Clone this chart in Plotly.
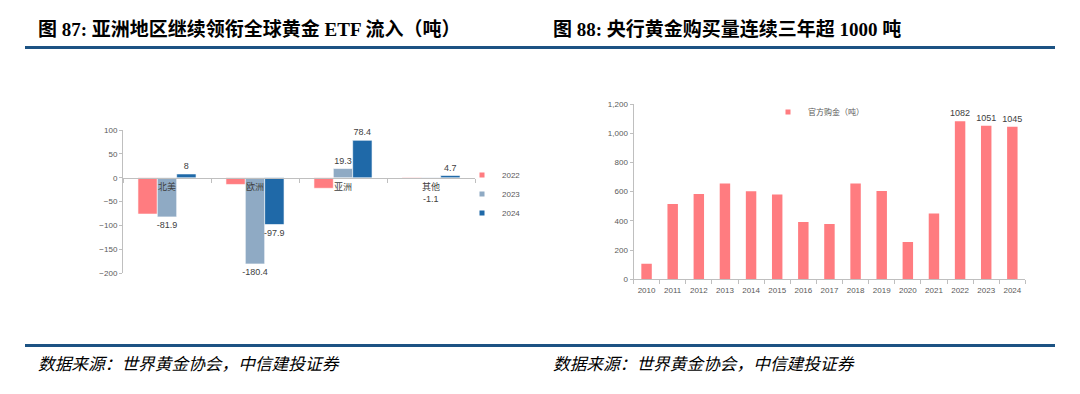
import plotly.graph_objects as go

# ---- data: left chart (ETF flows, tonnes) ----
regions = ["北美", "欧洲", "亚洲", "其他"]
flow_2022 = [-76, -14, -22, 1]
flow_2023 = [-81.9, -180.4, 19.3, -1.1]
flow_2024 = [8, -97.9, 78.4, 4.7]
left_ticks = [100, 50, 0, -50, -100, -150, -200]

# ---- data: right chart (official sector purchases, tonnes) ----
years = [str(y) for y in range(2010, 2025)]
official = [107, 516, 584, 655, 602, 580, 392, 379, 655, 605, 255, 450, 1082, 1051, 1045]
right_ticks = [0, 200, 400, 600, 800, 1000, 1200]
labelled_years = ["2022", "2023", "2024"]

W, H = 1080, 394
OX, OY = 8, 8  # page body margin offset
def px_x(v):
    return (v - OX) / W
def px_y(v):
    return 1 - (v - OY) / H

C22 = "#FF7C80"
C23 = "#8FAAC4"
C24 = "#1F69A8"
TICK_FONT = dict(family="Liberation Sans, Arial, sans-serif", size=8, color="#595959")
LBL_FONT = dict(family="Liberation Sans, Arial, sans-serif", size=9, color="#404040")
AXIS_COLOR = "#BFBFBF"

fig = go.Figure()

def small(v):
    return abs(v) < 5 and v < 0

fig.add_trace(go.Bar(x=regions, y=flow_2022, name="2022", marker=dict(color=C22, line=dict(color="white", width=0.6)),
                     xaxis="x", yaxis="y", showlegend=False, cliponaxis=False))
fig.add_trace(go.Bar(x=regions, y=flow_2023, name="2023", marker=dict(color=C23, line=dict(color="white", width=0.6)),
                     text=["" if small(v) else f"{v:g}" for v in flow_2023],
                     textposition="outside", textfont=LBL_FONT, constraintext="none",
                     xaxis="x", yaxis="y", showlegend=False, cliponaxis=False))
fig.add_trace(go.Bar(x=regions, y=flow_2024, name="2024", marker=dict(color=C24, line=dict(color="white", width=0.6)),
                     text=[f"{v:g}" for v in flow_2024], textposition="outside", textfont=LBL_FONT,
                     constraintext="none",
                     xaxis="x", yaxis="y", showlegend=False, cliponaxis=False))
# small negative 2023 values: label sits below the category name
for r, v in zip(regions, flow_2023):
    if small(v):
        fig.add_annotation(x=r, y=v, xref="x", yref="y", text=f"{v:g}", showarrow=False,
                           yanchor="top", yshift=-14, font=LBL_FONT)

# legend entries (small square keys)
for nm, col in (("2022", C22), ("2023", C23), ("2024", C24)):
    fig.add_trace(go.Scatter(x=[None], y=[None], mode="markers", name=nm,
                             marker=dict(symbol="square", size=5, color=col),
                             xaxis="x", yaxis="y", legend="legend"))

fig.add_trace(go.Bar(x=years, y=official, name="官方购金（吨）", width=0.4,
                     marker=dict(color=C22, line=dict(width=0)),
                     text=[str(v) if y in labelled_years else "" for y, v in zip(years, official)],
                     textposition="outside", textfont=LBL_FONT, constraintext="none",
                     xaxis="x2", yaxis="y2", showlegend=False, cliponaxis=False))
fig.add_trace(go.Scatter(x=[None], y=[None], mode="markers", name="官方购金（吨）",
                         marker=dict(symbol="square", size=5, color=C22),
                         xaxis="x2", yaxis="y2", legend="legend2"))

zero_pos = px_y(177.7)

fig.update_layout(
    width=W, height=H,
    margin=dict(l=0, r=0, t=0, b=0, autoexpand=False),
    paper_bgcolor="white", plot_bgcolor="white",
    barmode="group", bargap=0.34, bargroupgap=0,
    xaxis=dict(domain=[px_x(123), px_x(475)], anchor="free", position=zero_pos,
               showline=True, linecolor=AXIS_COLOR, linewidth=1,
               ticks="outside", tickson="boundaries", ticklen=4, tickcolor=AXIS_COLOR,
               tickfont=dict(family="Noto Sans CJK SC, sans-serif", size=9, color="#404040"),
               showgrid=False, zeroline=False, fixedrange=True, automargin=False, tickangle=0),
    yaxis=dict(domain=[px_y(273.3), px_y(130)], anchor="x", range=[-200, 100],
               tickvals=left_ticks, showline=True, linecolor=AXIS_COLOR, linewidth=1,
               ticks="outside", ticklen=3, tickcolor=AXIS_COLOR, tickfont=TICK_FONT,
               showgrid=False, zeroline=False, automargin=False),
    xaxis2=dict(domain=[px_x(633.5), px_x(1025.4)], anchor="y2",
                showline=True, linecolor=AXIS_COLOR, linewidth=1,
                ticks="outside", tickson="boundaries", ticklen=4, tickcolor=AXIS_COLOR,
                ticklabelstandoff=3,
                tickfont=TICK_FONT, showgrid=False, zeroline=False, automargin=False, tickangle=0),
    yaxis2=dict(domain=[px_y(279.3), px_y(104)], anchor="x2", range=[0, 1200],
                tickvals=right_ticks, tickformat=",", showline=True, linecolor=AXIS_COLOR, linewidth=1,
                ticks="outside", ticklen=3, tickcolor=AXIS_COLOR, tickfont=TICK_FONT,
                showgrid=False, zeroline=False, automargin=False),
    legend=dict(x=px_x(462), y=px_y(194), xanchor="left", yanchor="middle",
                orientation="v", font=TICK_FONT, bgcolor="rgba(0,0,0,0)",
                itemwidth=30, tracegroupgap=0, itemsizing="trace"),
    legend2=dict(x=px_x(768), y=px_y(112), xanchor="left", yanchor="middle",
                 orientation="h", font=dict(family="Noto Sans CJK SC, sans-serif", size=8, color="#595959"),
                 bgcolor="rgba(0,0,0,0)", itemwidth=30, itemsizing="trace"),
    showlegend=True,
)

# header / footer rules
for yy in (47.5, 345.5):
    fig.add_shape(type="line", xref="paper", yref="paper",
                  x0=px_x(25), x1=px_x(1055), y0=px_y(yy), y1=px_y(yy),
                  line=dict(color="#1C5283", width=3))

TITLE_FONT = dict(family="Liberation Serif, Noto Sans CJK SC, serif", size=19, color="#000000", weight="bold")
fig.add_annotation(text="图 87: 亚洲地区继续领衔全球黄金 ETF 流入（吨）", xref="paper", yref="paper",
                   x=px_x(36), y=px_y(29), xanchor="left", yanchor="middle", showarrow=False, font=TITLE_FONT)
fig.add_annotation(text="图 88: 央行黄金购买量连续三年超 1000 吨", xref="paper", yref="paper",
                   x=px_x(551), y=px_y(29), xanchor="left", yanchor="middle", showarrow=False, font=TITLE_FONT)

FOOT_FONT = dict(family="Noto Sans CJK SC, sans-serif", size=16.7, color="#000000", style="italic")
for xx in (36, 551):
    fig.add_annotation(text="数据来源：世界黄金协会，中信建投证券", xref="paper", yref="paper",
                       x=px_x(xx), y=px_y(363), xanchor="left", yanchor="middle", showarrow=False, font=FOOT_FONT)

fig.write_html("out.html")
